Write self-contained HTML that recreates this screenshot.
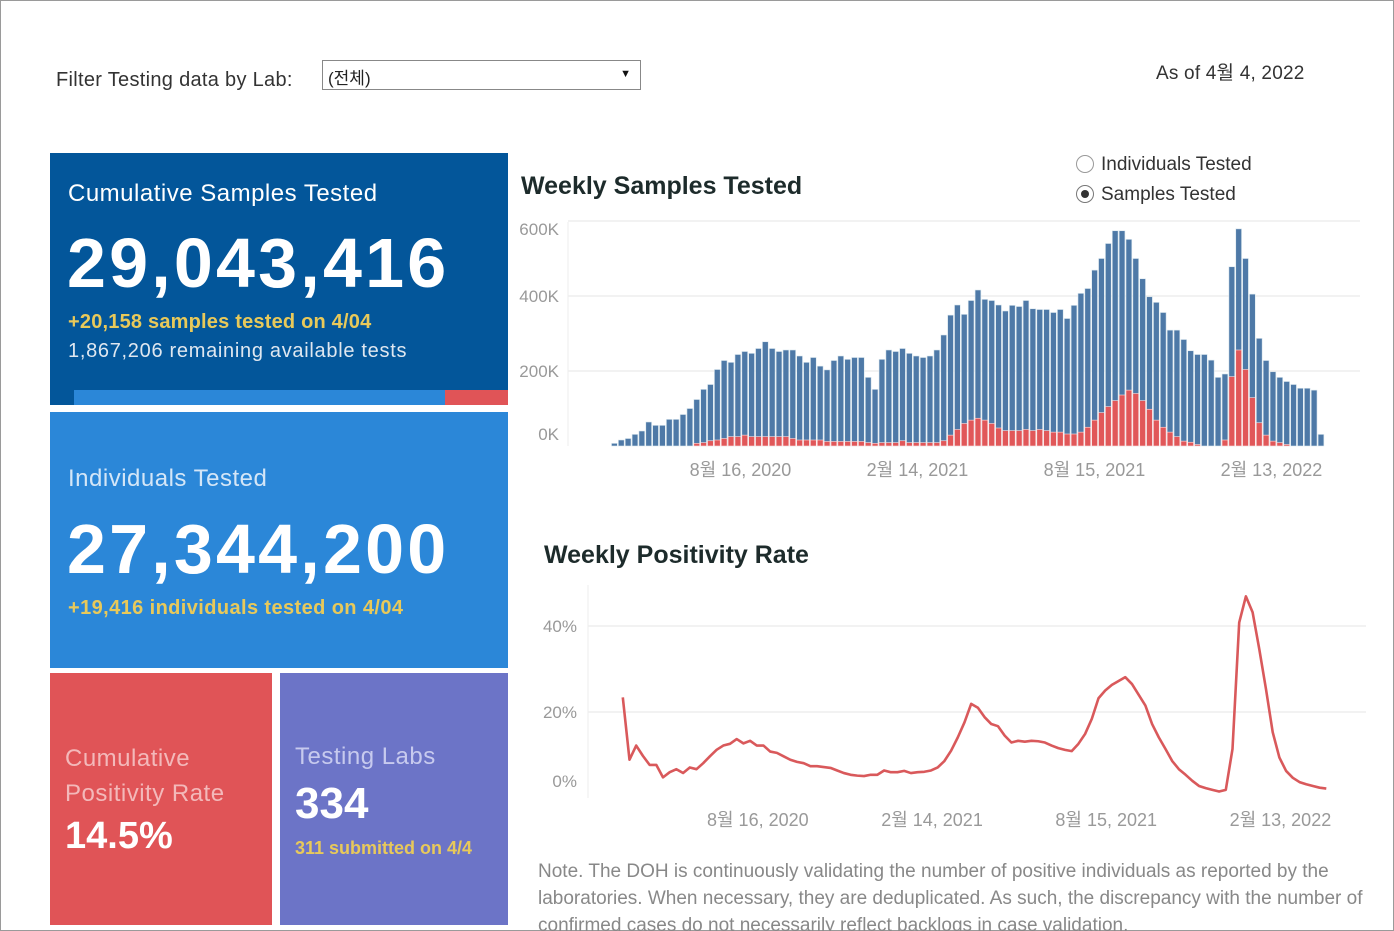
<!DOCTYPE html>
<html><head><meta charset="utf-8">
<style>
body{margin:0;width:1394px;height:931px;overflow:hidden;background:#fff;font-family:"Liberation Sans","Noto Sans CJK KR",sans-serif;}
#page{position:absolute;left:0;top:0;width:1394px;height:931px;box-shadow:inset 0 0 0 1px #9a9a9a;overflow:hidden;}
.abs{position:absolute;}
.card{position:absolute;color:#fff;}
</style></head><body>
<div id="page">
<div class="abs" style="left:56px;top:69px;font-size:20px;letter-spacing:0.3px;color:#333;">Filter Testing data by Lab:</div>
<div class="abs" style="left:322px;top:60px;width:317px;height:28px;border:1px solid #888;">
 <span class="abs" style="left:5px;top:3px;font-size:17px;color:#222;">(전체)</span>
 <span class="abs" style="right:9px;top:7px;font-size:11px;color:#111;">▼</span>
</div>
<div class="abs" style="left:1156px;top:58px;font-size:19px;letter-spacing:0.2px;color:#333;">As of 4월 4, 2022</div>

<div class="card" style="left:50px;top:153px;width:458px;height:252px;background:#03569a;">
 <div class="abs" style="left:18px;top:27px;font-size:24px;letter-spacing:0.5px;">Cumulative Samples Tested</div>
 <div class="abs" style="left:17px;top:70px;font-size:70px;font-weight:bold;letter-spacing:3.2px;">29,043,416</div>
 <div class="abs" style="left:18px;top:158px;font-size:20px;font-weight:bold;letter-spacing:0.2px;color:#e8c95a;">+20,158 samples tested on 4/04</div>
 <div class="abs" style="left:18px;top:187px;font-size:20px;letter-spacing:0.7px;color:#dfe7f0;">1,867,206 remaining available tests</div>
 <div class="abs" style="left:24px;top:237px;width:371px;height:15px;background:#2b87d8;"></div>
 <div class="abs" style="left:395px;top:237px;width:63px;height:15px;background:#e05457;"></div>
</div>
<div class="card" style="left:50px;top:412px;width:458px;height:256px;background:#2b87d8;">
 <div class="abs" style="left:18px;top:53px;font-size:24px;letter-spacing:0.5px;color:#d4e6f7;">Individuals Tested</div>
 <div class="abs" style="left:17px;top:97px;font-size:70px;font-weight:bold;letter-spacing:3.2px;">27,344,200</div>
 <div class="abs" style="left:18px;top:185px;font-size:20px;font-weight:bold;letter-spacing:0.4px;color:#e8c95a;">+19,416 individuals tested on 4/04</div>
</div>
<div class="card" style="left:50px;top:673px;width:222px;height:252px;background:#e05457;">
 <div class="abs" style="left:15px;top:68px;font-size:24px;line-height:35px;letter-spacing:0.5px;color:#f3b9ba;">Cumulative<br>Positivity Rate</div>
 <div class="abs" style="left:15px;top:142px;font-size:38px;font-weight:bold;">14.5%</div>
</div>
<div class="card" style="left:280px;top:673px;width:228px;height:252px;background:#6c74c7;">
 <div class="abs" style="left:15px;top:70px;font-size:24px;letter-spacing:0.5px;color:#c7caee;">Testing Labs</div>
 <div class="abs" style="left:15px;top:106px;font-size:44px;font-weight:bold;">334</div>
 <div class="abs" style="left:15px;top:165px;font-size:18px;font-weight:bold;color:#e8c95a;">311 submitted on 4/4</div>
</div>

<div class="abs" style="left:521px;top:172px;font-size:25px;font-weight:bold;color:#1d2b2b;">Weekly Samples Tested</div>
<div class="abs" style="left:1076px;top:154px;font-size:19px;color:#333;"><span style="display:inline-block;width:16px;height:16px;border:1px solid #999;border-radius:50%;vertical-align:-3px;margin-right:7px;"></span>Individuals Tested</div>
<div class="abs" style="left:1076px;top:184px;font-size:19px;color:#333;"><span style="display:inline-block;width:16px;height:16px;border:1px solid #777;border-radius:50%;vertical-align:-3px;margin-right:7px;position:relative;"><span style="position:absolute;left:4px;top:4px;width:8px;height:8px;border-radius:50%;background:#333;"></span></span>Samples Tested</div>

<svg class="abs" style="left:0;top:0" width="1394" height="931" id="chart"></svg>

<div class="abs" style="left:544px;top:541px;font-size:25px;font-weight:bold;color:#1d2b2b;">Weekly Positivity Rate</div>
<div class="abs" style="left:538px;top:858px;width:845px;font-size:19px;line-height:27px;color:#888;">Note. The DOH is continuously validating the number of positive individuals as reported by the laboratories. When necessary, they are deduplicated. As such, the discrepancy with the number of confirmed cases do not necessarily reflect backlogs in case validation.</div>
</div>
<script>
const samples=[7,16,20,31,40,64,55,55,71,71,84,100,124,151,164,204,228,223,244,252,247,260,278,260,252,256,256,240,223,236,213,203,228,240,231,236,236,183,151,231,256,252,260,247,240,236,240,256,296,349,376,351,388,416,391,388,376,360,375,372,388,366,364,364,356,364,340,375,407,420,469,500,540,574,574,551,500,446,398,383,356,309,309,284,254,244,244,229,183,192,478,579,500,405,287,228,198,183,172,164,154,154,149,31];
const positives=[0,0,0,0,0,0,0,0,0,0,0,0,7,9,14,16,20,25,25,29,25,25,25,25,25,25,20,16,16,16,16,12,12,12,12,12,12,9,7,9,9,9,14,9,9,9,9,9,14,29,44,60,69,74,69,60,48,41,41,41,44,41,44,41,37,37,32,32,37,50,69,89,105,121,136,149,140,121,98,69,50,37,25,13,10,4,0,0,0,16,185,256,204,129,62,29,13,9,4,0,0,0,0,0];
const yTicks=[0,200,400,600];
const yTickLabels=['0K','200K','400K','600K'];
const dateLabels=['8월 16, 2020','2월 14, 2021','8월 15, 2021','2월 13, 2022'];
const barLabelIdx=[18.8,44.6,70.4,96.2];
const positivity=[23.4,8.9,12.2,9.8,7.7,7.7,4.8,6.0,6.7,5.8,7.1,6.7,8.1,9.7,11.2,12.2,12.6,13.7,12.7,13.3,12.2,12.2,10.8,10.5,9.7,8.9,8.4,8.1,7.4,7.4,7.2,7.0,6.4,5.8,5.4,5.2,5.1,5.4,5.4,6.4,6.0,6.0,6.3,5.8,6.0,6.1,6.4,7.1,8.6,11.0,14.1,17.6,21.9,21.0,18.8,17.2,16.7,14.5,12.9,13.3,13.1,13.3,13.2,12.9,12.2,11.6,11.2,10.9,12.6,14.9,18.4,23.2,25.0,26.3,27.2,28.1,26.5,24.0,21.5,17.2,14.1,11.4,8.6,6.7,5.4,4.0,2.8,2.3,1.9,1.5,1.9,11.4,40.8,46.9,43.2,34.6,25.3,15.3,9.4,6.3,4.7,3.7,3.2,2.8,2.4,2.2];
const pTicks=[0,20,40];
const pTickLabels=['0%','20%','40%'];
const lineLabelIdx=[20.3,46.3,72.3,98.3];

const svg=document.getElementById('chart');
const NS='http://www.w3.org/2000/svg';
function mk(tag,at){const e=document.createElementNS(NS,tag);for(const k in at)e.setAttribute(k,at[k]);svg.appendChild(e);return e;}
const bx=i=>611.5+i*6.86, by=v=>446-v*0.375;
yTicks.forEach((t,i)=>{
 if(t>0){const g=mk('line',{x1:568,x2:1360,y1:by(t),y2:by(t),stroke:'#e6e6e6','stroke-width':1});
 
 }
 const l=mk('text',{x:559,y:by(t)+(t==0?-6:t==600?14:6),'text-anchor':'end','font-size':17,fill:'#999','font-family':'Liberation Sans, sans-serif'});
 l.textContent=yTickLabels[i];
 
 
});
mk('line',{x1:568,x2:568,y1:222,y2:446,stroke:'#eee'});
samples.forEach((v,i)=>{
 const r=mk('rect',{x:bx(i),y:by(v),width:5.8,height:by(0)-by(v),fill:'#4e79a7',stroke:'#dbe8ef','stroke-width':0.6});
 
 
 const p=positives[i];
 if(p>0){const q=mk('rect',{x:bx(i),y:by(p),width:5.8,height:by(0)-by(p),fill:'#e15759',stroke:'#fbe0e0','stroke-width':0.6});
 
 }
});
dateLabels.forEach((d,i)=>{
 const t=mk('text',{x:bx(barLabelIdx[i]),y:476,'text-anchor':'middle','font-size':18,fill:'#999','font-family':'Liberation Sans, Noto Sans CJK KR, sans-serif'});
 t.textContent=d;
 
 
});
const lx=i=>622.8+i*6.7, ly=v=>798-v*4.3;
pTicks.forEach((t,i)=>{
 if(t>0){const g=mk('line',{x1:588,x2:1366,y1:ly(t),y2:ly(t),stroke:'#e6e6e6','stroke-width':1});
 
 }
 const l=mk('text',{x:577,y:ly(t)+(t==0?-11:6),'text-anchor':'end','font-size':17,fill:'#999','font-family':'Liberation Sans, sans-serif'});
 l.textContent=pTickLabels[i];
 
 
});
mk('line',{x1:588,x2:588,y1:585,y2:798,stroke:'#eee'});
const path=mk('polyline',{points:positivity.map((v,i)=>lx(i)+','+ly(v)).join(' '),fill:'none',stroke:'#d9595b','stroke-width':2.6,'stroke-linejoin':'round'});


dateLabels.forEach((d,i)=>{
 const t=mk('text',{x:lx(lineLabelIdx[i])-1,y:826,'text-anchor':'middle','font-size':18,fill:'#999','font-family':'Liberation Sans, Noto Sans CJK KR, sans-serif'});
 t.textContent=d;
 
 
});
</script>
</body></html>
